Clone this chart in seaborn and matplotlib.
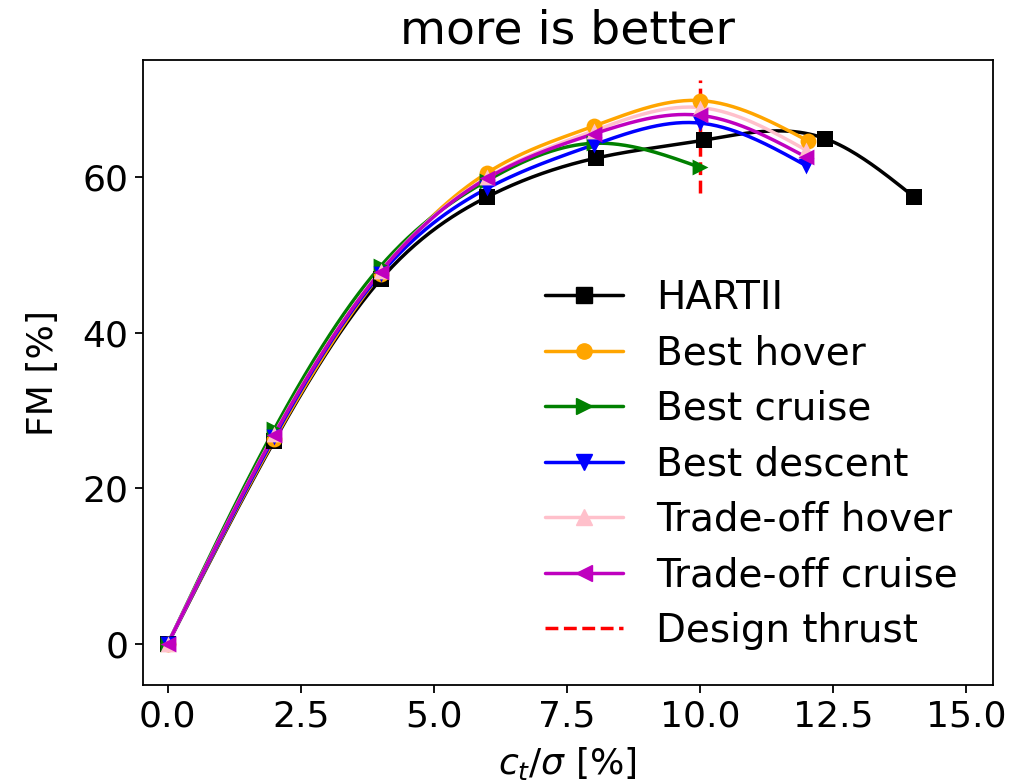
import numpy as np
import pandas as pd
import seaborn as sns
import matplotlib.pyplot as plt
from matplotlib.lines import Line2D

# data
hart_ct = [0.0, 2.0, 4.0, 6.0, 8.05, 10.07, 12.35, 14.02]
hart_fm = [0.0, 26.1, 46.9, 57.5, 62.5, 64.8, 65.0, 57.5]

hover_ct = [0.0, 2.0, 4.0, 6.0, 8.0, 10.0, 12.03]
hover_fm = [0.0, 26.3, 47.6, 60.6, 66.6, 69.9, 64.7]

cruise_ct = [0.0, 2.0, 4.0, 6.0, 8.0, 10.0]
cruise_fm = [0.0, 27.6, 48.6, 59.6, 64.4, 61.3]

descent_ct = [0.0, 2.0, 4.0, 6.0, 8.0, 10.0, 12.0]
descent_fm = [0.0, 26.6, 47.6, 58.6, 64.2, 67.0, 61.5]

toh_ct = [0.0, 2.0, 4.0, 6.0, 8.0, 10.0, 12.0]
toh_fm = [0.0, 27.0, 48.0, 60.0, 66.0, 69.0, 63.5]

toc_ct = [0.0, 2.0, 4.0, 6.0, 8.0, 10.0, 12.0]
toc_fm = [0.0, 26.9, 47.9, 59.9, 65.6, 68.0, 62.6]

design_ct = [10.0, 10.0]
design_fm = [58.0, 72.5]

series = [
    ("HARTII", hart_ct, hart_fm, "black", "s"),
    ("Best hover", hover_ct, hover_fm, "orange", "o"),
    ("Best cruise", cruise_ct, cruise_fm, "green", ">"),
    ("Best descent", descent_ct, descent_fm, "blue", "v"),
    ("Trade-off hover", toh_ct, toh_fm, "pink", "^"),
    ("Trade-off cruise", toc_ct, toc_fm, "m", "<"),
]


def natural_spline(x, y, n=300):
    # smooth curve through the measured points (natural cubic spline)
    x = np.asarray(x, float)
    y = np.asarray(y, float)
    k = len(x)
    h = np.diff(x)
    A = np.zeros((k, k))
    b = np.zeros(k)
    A[0, 0] = A[-1, -1] = 1.0
    for i in range(1, k - 1):
        A[i, i - 1] = h[i - 1]
        A[i, i] = 2 * (h[i - 1] + h[i])
        A[i, i + 1] = h[i]
        b[i] = 6 * ((y[i + 1] - y[i]) / h[i] - (y[i] - y[i - 1]) / h[i - 1])
    M = np.linalg.solve(A, b)
    xs = np.linspace(x[0], x[-1], n)
    idx = np.clip(np.searchsorted(x, xs) - 1, 0, k - 2)
    x0, x1 = x[idx], x[idx + 1]
    hh = x1 - x0
    t0, t1 = x1 - xs, xs - x0
    ys = (M[idx] * t0 ** 3 + M[idx + 1] * t1 ** 3) / (6 * hh) \
        + (y[idx] / hh - M[idx] * hh / 6) * t0 \
        + (y[idx + 1] / hh - M[idx + 1] * hh / 6) * t1
    return xs, ys


sns.set_style("ticks")
plt.rcParams['font.family'] = ['DejaVu Sans']
plt.rcParams['mathtext.fontset'] = 'dejavusans'
for key in ['text.color', 'axes.labelcolor', 'xtick.color', 'ytick.color',
            'axes.edgecolor']:
    plt.rcParams[key] = 'black'

lw = 2.5
fig = plt.figure(figsize=(10.13, 7.81), dpi=100)
ax = fig.add_axes([0.141, 0.123, 0.839, 0.8])

handles = []
for name, cx, fy, color, mk in series:
    xs, ys = natural_spline(cx, fy)
    sns.lineplot(x=xs, y=ys, ax=ax, color=color, linewidth=lw, sort=False,
                 estimator=None)
    sns.scatterplot(x=cx, y=fy, ax=ax, color=color, marker=mk, s=130,
                    edgecolor=color, linewidth=0, zorder=3)
    handles.append(Line2D([], [], color=color, marker=mk, markersize=11,
                          linewidth=lw, label=name))

sns.lineplot(x=design_ct, y=design_fm, ax=ax, color="red", estimator=None,
             linestyle="--", linewidth=lw)
handles.append(Line2D([], [], color="red", linestyle="--", linewidth=lw,
                      label="Design thrust"))

ax.set_xlim(-0.47, 15.5)
ax.set_ylim(-5.3, 75.1)
ax.set_xticks([0, 2.5, 5, 7.5, 10, 12.5, 15])
ax.set_yticks([0, 20, 40, 60])
ax.tick_params(labelsize=26, length=5.5, width=1.3, pad=5)
for s in ax.spines.values():
    s.set_linewidth(1.3)
ax.set_xlabel(r"$c_t/\sigma$ [%]", fontsize=26, labelpad=8)
ax.set_ylabel("FM [%]", fontsize=26, labelpad=16)
ax.set_title("more is better", fontsize=34, pad=12)

ax.legend(handles=handles, loc="lower right", frameon=False, fontsize=28,
          handlelength=2, bbox_to_anchor=(1.0, 0.0), labelspacing=0.45,
          handletextpad=0.85)

fig.savefig("out.png", dpi=100)
